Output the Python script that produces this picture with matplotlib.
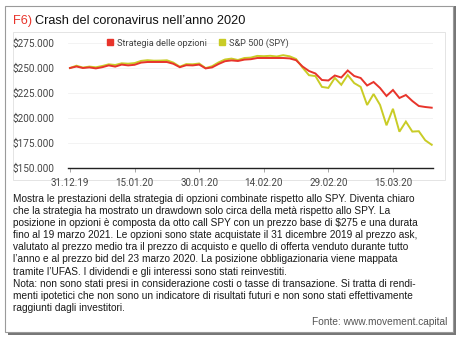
import matplotlib
matplotlib.use("Agg")
import matplotlib.pyplot as plt
from matplotlib.lines import Line2D
from matplotlib.patches import Rectangle
from matplotlib.ticker import FuncFormatter

# trading days 31.12.2019 - 23.03.2020
dates = ["31.12.19", "02.01.20", "03.01.20", "06.01.20", "07.01.20", "08.01.20",
         "09.01.20", "10.01.20", "13.01.20", "14.01.20", "15.01.20", "16.01.20",
         "17.01.20", "21.01.20", "22.01.20", "23.01.20", "24.01.20", "27.01.20",
         "28.01.20", "29.01.20", "30.01.20", "31.01.20", "03.02.20", "04.02.20",
         "05.02.20", "06.02.20", "07.02.20", "10.02.20", "11.02.20", "12.02.20",
         "13.02.20", "14.02.20", "18.02.20", "19.02.20", "20.02.20", "21.02.20",
         "24.02.20", "25.02.20", "26.02.20", "27.02.20", "28.02.20", "02.03.20",
         "03.03.20", "04.03.20", "05.03.20", "06.03.20", "09.03.20", "10.03.20",
         "11.03.20", "12.03.20", "13.03.20", "16.03.20", "17.03.20", "18.03.20",
         "19.03.20", "20.03.20", "23.03.20"]

# values in thousand $
strategia = [250.0, 251.5, 250.0, 250.6, 249.6, 250.8, 252.6, 251.4, 253.4, 252.6,
             253.2, 255.4, 256.0, 256.0, 256.0, 256.0, 254.2, 250.8, 252.8, 252.6,
             253.4, 249.6, 250.6, 254.0, 256.8, 257.6, 257.0, 258.4, 258.8, 260.0,
             260.0, 260.0, 260.0, 260.0, 259.6, 257.8, 251.5, 247.0, 244.5, 238.0,
             237.5, 242.5, 240.5, 247.5, 242.0, 240.0, 232.5, 236.0, 230.0, 222.0,
             228.0, 220.0, 223.0, 217.0, 212.0, 211.0, 210.3]
spy = [250.0, 252.3, 250.4, 251.4, 250.7, 252.0, 253.7, 253.0, 254.7, 254.3,
       254.9, 257.1, 257.8, 257.3, 257.4, 257.7, 255.4, 251.3, 253.9, 253.7,
       254.5, 249.9, 251.8, 255.6, 258.5, 259.4, 258.0, 260.0, 260.4, 262.1,
       261.8, 262.2, 261.5, 262.8, 261.7, 259.0, 250.4, 242.8, 241.9, 231.1,
       230.1, 240.1, 233.2, 243.0, 234.9, 231.1, 213.0, 224.0, 213.1, 192.7,
       209.2, 186.3, 196.4, 186.4, 186.8, 177.7, 173.2]

tick_pos = [0, 10, 20, 30, 40, 50]
tick_labels = ["31.12.19", "15.01.20", "30.01.20", "14.02.20", "29.02.20", "15.03.20"]
y_ticks = [150000, 175000, 200000, 225000, 250000, 275000]

red = "#e8342b"
yellow = "#c9cc26"
small_font = ["Roboto", "DejaVu Sans"]
text_font = ["Liberation Sans", "DejaVu Sans"]

W, H = 462, 340
fig = plt.figure(figsize=(W / 100, H / 100), dpi=100)

def fx(px):
    return px / W

def fy(py):
    return 1 - py / H

# outer frame with shadow
fig.patches.append(Rectangle((fx(8), fy(335)), fx(448), 329 / H, transform=fig.transFigure,
                             facecolor="#777777", edgecolor="none", zorder=0))
fig.patches.append(Rectangle((fx(5), fy(332)), fx(448), 326 / H, transform=fig.transFigure,
                             facecolor="white", edgecolor="#9a9a9a", linewidth=0.8, zorder=1))
# chart panel
fig.patches.append(Rectangle((fx(13), fy(180)), fx(432), 148 / H, transform=fig.transFigure,
                             facecolor="white", edgecolor="#e4e4e4", linewidth=0.7, zorder=2))

ax = fig.add_axes([fx(68), fy(168), fx(433 - 68), 125 / H])
ax.set_zorder(3)
ax.patch.set_alpha(0)

x = list(range(len(dates)))
ys = [v * 1000 for v in spy]
yr = [v * 1000 for v in strategia]
ax.plot(x, ys, color=yellow, lw=1.4, solid_joinstyle="miter", clip_on=False, zorder=3)
ax.plot(x, yr, color=red, lw=1.4, solid_joinstyle="miter", clip_on=False, zorder=4)

ax.set_xlim(-0.31, 56.2)
ax.set_ylim(150000, 275000)
ax.set_yticks(y_ticks)
ax.yaxis.set_major_formatter(FuncFormatter(lambda v, p: "$" + f"{v:,.0f}".replace(",", ".")))
ax.set_xticks(tick_pos)
ax.set_xticklabels(tick_labels)
for s in ["top", "right", "left"]:
    ax.spines[s].set_visible(False)
ax.spines["bottom"].set_color("#222222")
ax.spines["bottom"].set_linewidth(1.0)
ax.tick_params(axis="y", length=0, pad=10, labelsize=7.2, labelcolor="#444444")
ax.tick_params(axis="x", length=3, width=0.6, color="#999999", pad=4,
               labelsize=7.0, labelcolor="#444444")
for lab in ax.get_xticklabels() + ax.get_yticklabels():
    lab.set_family(small_font)
ax.grid(axis="y", color="#f1f1f1", lw=0.6)
ax.set_axisbelow(True)

handles = [Line2D([], [], ls="none", marker="s", ms=4.0, color=red),
           Line2D([], [], ls="none", marker="s", ms=4.0, color=yellow)]
leg = ax.legend(handles, ["Strategia delle opzioni", "S&P 500 (SPY)"], ncol=2,
                loc="center left", bbox_to_anchor=(fx(106), fy(43)),
                bbox_transform=fig.transFigure, frameon=False, handlelength=0.8,
                handletextpad=0.35, columnspacing=1.3, borderpad=0, borderaxespad=0,
                prop={"family": small_font, "size": 6.6})
for t in leg.get_texts():
    t.set_color("#444444")

# title
t1 = fig.text(fx(13), fy(21), "F6)", color="#e8342b", fontsize=9.2, family=text_font,
              va="center", ha="left")
fig.canvas.draw()
bb = t1.get_window_extent()
fig.text(bb.x1 / W + fx(3), fy(21), "Crash del coronavirus nell\u2019anno 2020", color="#111111",
         fontsize=9.2, family=text_font, va="center", ha="left")

lines = [
    "Mostra le prestazioni della strategia di opzioni combinate rispetto allo SPY. Diventa chiaro",
    "che la strategia ha mostrato un drawdown solo circa della met\u00e0 rispetto allo SPY. La",
    "posizione in opzioni \u00e8 composta da otto call SPY con un prezzo base di $275 e una durata",
    "fino al 19 marzo 2021. Le opzioni sono state acquistate il 31 dicembre 2019 al prezzo ask,",
    "valutato al prezzo medio tra il prezzo di acquisto e quello di offerta venduto durante tutto",
    "l\u2019anno e al prezzo bid del 23 marzo 2020. La posizione obbligazionaria viene mappata",
    "tramite l\u2019UFAS. I dividendi e gli interessi sono stati reinvestiti.",
    "Nota: non sono stati presi in considerazione costi o tasse di transazione. Si tratta di rendi-",
    "menti ipotetici che non sono un indicatore di risultati futuri e non sono stati effettivamente",
    "raggiunti dagli investitori.",
]
for i, line in enumerate(lines):
    fig.text(fx(13), fy(199 + i * 12.1), line, fontsize=7.3, family=text_font,
             color="#1a1a1a", va="center", ha="left")

fig.text(fx(447), fy(322), "Fonte: www.movement.capital", fontsize=7.3, family=text_font,
         color="#555555", va="center", ha="right")

fig.savefig("out.png", dpi=100)
